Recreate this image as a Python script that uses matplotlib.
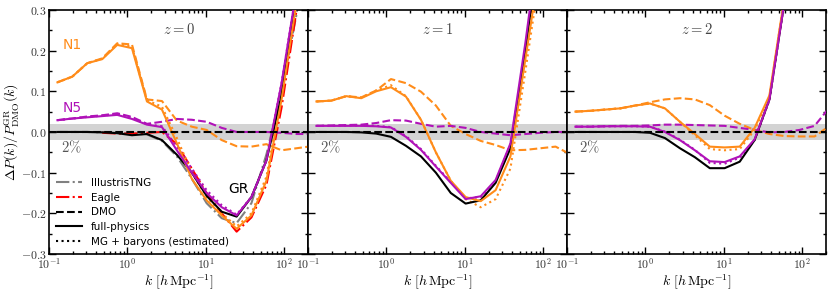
import numpy as np
import matplotlib
matplotlib.use("Agg")
import matplotlib.pyplot as plt
from matplotlib.lines import Line2D
from matplotlib.ticker import MultipleLocator, FuncFormatter, LogLocator

plt.rcParams["mathtext.fontset"] = "cm"
plt.rcParams["font.family"] = ["DejaVu Sans"]

# wavenumber bins [h/Mpc]
k = [0.128, 0.198, 0.307, 0.477, 0.74, 1.14, 1.77, 2.75, 4.26, 6.6,
     10.2, 15.9, 24.6, 38.0, 59.0, 92.0, 143.0, 221.0]
k_dmo = [0.1, 200.0]
gr_dmo = [0.0, 0.0]

# z = 0
tng0 = [0.0, 0.0, 0.0, -0.001, -0.002, -0.004, -0.006, -0.022, -0.06, -0.115,
        -0.175, -0.212, -0.224, -0.175, -0.055, 0.1, 0.29, 0.6]
eagle0 = [np.nan, np.nan, np.nan, -0.002, -0.004, -0.004, -0.002, 0.0, -0.03, -0.09,
          -0.15, -0.2, -0.245, -0.21, -0.13, 0.06, 0.3, 0.6]
gr_fp0 = [0.0, 0.0, 0.0, -0.001, -0.003, -0.008, -0.005, -0.02, -0.056, -0.10,
          -0.157, -0.196, -0.208, -0.16, -0.07, 0.09, 0.33, 0.7]
n1_fp0 = [0.122, 0.136, 0.169, 0.179, 0.214, 0.206, 0.075, 0.055, -0.028, -0.115,
          -0.168, -0.205, -0.238, -0.205, -0.12, 0.08, 0.32, 0.7]
n1_dmo0 = [0.122, 0.136, 0.169, 0.181, 0.218, 0.215, 0.08, 0.076, 0.028, 0.013,
           0.005, -0.02, -0.035, -0.036, -0.03, -0.045, -0.04, -0.035]
n1_est0 = [0.122, 0.136, 0.169, 0.18, 0.216, 0.21, 0.078, 0.062, -0.015, -0.1,
           -0.16, -0.2, -0.232, -0.2, -0.11, 0.09, 0.33, 0.7]
n5_fp0 = [0.029, 0.033, 0.036, 0.039, 0.042, 0.032, 0.018, 0.012, -0.045, -0.1,
          -0.15, -0.185, -0.205, -0.16, -0.07, 0.12, 0.35, 0.7]
n5_dmo0 = [0.029, 0.033, 0.038, 0.041, 0.046, 0.037, 0.02, 0.025, 0.032, 0.03,
           0.025, 0.01, 0.0, 0.0, 0.0, -0.002, -0.005, -0.005]
n5_est0 = [0.029, 0.033, 0.037, 0.04, 0.044, 0.035, 0.019, 0.014, -0.036, -0.09,
           -0.143, -0.18, -0.203, -0.16, -0.07, 0.12, 0.35, 0.7]

# z = 1
gr_fp1 = [0.0, 0.0, 0.0, -0.001, -0.004, -0.012, -0.034, -0.06, -0.1, -0.15,
          -0.176, -0.168, -0.125, -0.04, 0.2, 0.48, 0.8, 1.2]
n1_fp1 = [0.075, 0.077, 0.088, 0.083, 0.1, 0.11, 0.087, 0.03, -0.05, -0.12,
          -0.16, -0.17, -0.143, -0.06, 0.18, 0.42, 0.7, 1.1]
n1_dmo1 = [0.075, 0.077, 0.088, 0.085, 0.102, 0.13, 0.12, 0.099, 0.065, 0.015,
           -0.005, -0.022, -0.032, -0.045, -0.044, -0.04, -0.036, -0.055]
n1_est1 = [0.075, 0.077, 0.088, 0.084, 0.102, 0.115, 0.088, 0.03, -0.05, -0.12,
           -0.165, -0.185, -0.165, -0.09, 0.15, 0.4, 0.7, 1.1]
n5_fp1 = [0.015, 0.015, 0.015, 0.015, 0.014, 0.011, -0.012, -0.044, -0.085, -0.125,
          -0.165, -0.158, -0.118, -0.028, 0.22, 0.5, 0.8, 1.2]
n5_dmo1 = [0.015, 0.016, 0.017, 0.018, 0.022, 0.029, 0.028, 0.02, 0.013, 0.015,
           0.01, 0.0, -0.004, -0.008, -0.005, -0.002, 0.0, 0.0]
n5_est1 = [0.015, 0.015, 0.016, 0.016, 0.015, 0.012, -0.01, -0.042, -0.083, -0.123,
           -0.163, -0.16, -0.12, -0.03, 0.2, 0.48, 0.8, 1.2]

# z = 2
gr_fp2 = [0.0, 0.0, 0.0, 0.0, 0.0, -0.002, -0.015, -0.04, -0.062, -0.089,
          -0.089, -0.073, -0.02, 0.08, 0.32, 0.7, 1.0, 1.3]
n1_fp2 = [0.05, 0.052, 0.055, 0.058, 0.065, 0.07, 0.058, 0.025, -0.005, -0.036,
          -0.038, -0.036, 0.01, 0.09, 0.33, 0.7, 1.0, 1.3]
n1_dmo2 = [0.05, 0.052, 0.055, 0.058, 0.065, 0.073, 0.08, 0.083, 0.08, 0.066,
           0.04, 0.02, 0.005, -0.005, -0.01, -0.011, -0.011, 0.015]
n1_est2 = [0.05, 0.052, 0.055, 0.058, 0.065, 0.07, 0.058, 0.025, -0.008, -0.042,
           -0.045, -0.042, 0.005, 0.085, 0.33, 0.7, 1.0, 1.3]
n5_fp2 = [0.013, 0.013, 0.014, 0.014, 0.014, 0.013, 0.0, -0.02, -0.045, -0.072,
          -0.074, -0.06, -0.018, 0.08, 0.32, 0.7, 1.0, 1.3]
n5_dmo2 = [0.013, 0.013, 0.014, 0.015, 0.015, 0.016, 0.018, 0.018, 0.017, 0.016,
           0.015, 0.01, 0.005, -0.001, 0.0, 0.005, 0.015, 0.06]
n5_est2 = [0.013, 0.013, 0.014, 0.014, 0.014, 0.013, 0.001, -0.019, -0.044, -0.076,
           -0.078, -0.063, -0.02, 0.078, 0.32, 0.7, 1.0, 1.3]

panels = [
    ("$z = 0$", gr_fp0, n1_fp0, n1_dmo0, n1_est0, n5_fp0, n5_dmo0, n5_est0),
    ("$z = 1$", gr_fp1, n1_fp1, n1_dmo1, n1_est1, n5_fp1, n5_dmo1, n5_est1),
    ("$z = 2$", gr_fp2, n1_fp2, n1_dmo2, n1_est2, n5_fp2, n5_dmo2, n5_est2),
]

c_n1 = "#ff8c1a"
c_n5 = "#b012b8"
lw = 1.5

fig, axes = plt.subplots(1, 3, figsize=(8.31, 2.91), dpi=100, sharey=True)
fig.subplots_adjust(left=0.059, right=0.994, bottom=0.127, top=0.966, wspace=0)

for i, (ax, (ztxt, gr_fp, n1_fp, n1_dmo, n1_est, n5_fp, n5_dmo, n5_est)) in enumerate(zip(axes, panels)):
    ax.axhspan(-0.02, 0.02, color="#d3d3d3", lw=0, zorder=0)
    if i == 0:
        ax.plot(k, tng0, color="grey", ls="-.", lw=lw, zorder=2)
        ax.plot(k, eagle0, color="red", ls="-.", lw=lw, zorder=2)
    ax.plot(k, n1_dmo, color=c_n1, ls="--", lw=lw, zorder=3)
    ax.plot(k, n5_dmo, color=c_n5, ls="--", lw=lw, zorder=3)
    ax.plot(k, n1_est, color=c_n1, ls=":", lw=lw, zorder=3)
    ax.plot(k, n5_est, color=c_n5, ls=":", lw=lw, zorder=3)
    ax.plot(k, gr_fp, color="black", ls="-", lw=lw, zorder=3)
    ax.plot(k, n1_fp, color=c_n1, ls="-", lw=lw, zorder=4)
    ax.plot(k, n5_fp, color=c_n5, ls="-", lw=lw, zorder=4)
    ax.plot(k_dmo, gr_dmo, color="black", ls="--", lw=lw, zorder=5)

    ax.set_xscale("log")
    ax.set_xlim(0.1, 200)
    ax.set_ylim(-0.3, 0.3)
    ax.text(0.5, 0.92, ztxt, transform=ax.transAxes, ha="center", va="center",
            fontsize=10.5, color="#444444")
    ax.text(0.19, -0.037, r"$2\%$", ha="center", va="center", fontsize=10.5, color="#555555")
    ax.set_xlabel(r"$k\ [h\,\mathrm{Mpc}^{-1}]$", fontsize=10, labelpad=1)

    ax.yaxis.set_major_locator(MultipleLocator(0.1))
    ax.yaxis.set_minor_locator(MultipleLocator(0.05))
    ax.xaxis.set_major_locator(LogLocator(base=10, numticks=10))
    ax.xaxis.set_minor_locator(LogLocator(base=10, subs=np.arange(2, 10), numticks=20))
    ax.xaxis.set_major_formatter(FuncFormatter(lambda v, _: "$10^{%d}$" % round(np.log10(v))))
    ax.yaxis.set_major_formatter(FuncFormatter(lambda v, _: "$%.1f$" % v))
    ax.tick_params(which="both", direction="in", top=True, right=True, labelsize=8.5,
                   labelcolor="#333333", width=1.0, pad=2)
    ax.tick_params(which="major", length=5)
    ax.tick_params(which="minor", length=2.5)
    for s in ax.spines.values():
        s.set_linewidth(1.2)

ax0 = axes[0]
ax0.set_ylabel(r"$\Delta P(k)/P^{\rm GR}_{\rm DMO}(k)$", fontsize=10, labelpad=0)
ax0.text(0.09, 0.857, "N1", transform=ax0.transAxes, color=c_n1, fontsize=10,
         ha="center", va="center")
ax0.text(0.09, 0.6, "N5", transform=ax0.transAxes, color=c_n5, fontsize=10,
         ha="center", va="center")
ax0.text(0.73, 0.265, "GR", transform=ax0.transAxes, color="black", fontsize=10,
         ha="center", va="center")

handles = [
    Line2D([], [], color="grey", ls="-.", lw=lw),
    Line2D([], [], color="red", ls="-.", lw=lw),
    Line2D([], [], color="black", ls="--", lw=lw),
    Line2D([], [], color="black", ls="-", lw=lw),
    Line2D([], [], color="black", ls=":", lw=lw),
]
labels = ["IllustrisTNG", "Eagle", "DMO", "full-physics", "MG + baryons (estimated)"]
ax0.legend(handles, labels, loc="lower left", frameon=False, fontsize=7.5,
           handlelength=2.5, labelspacing=0.45, borderaxespad=0.3)

fig.savefig("out.png", dpi=100)
